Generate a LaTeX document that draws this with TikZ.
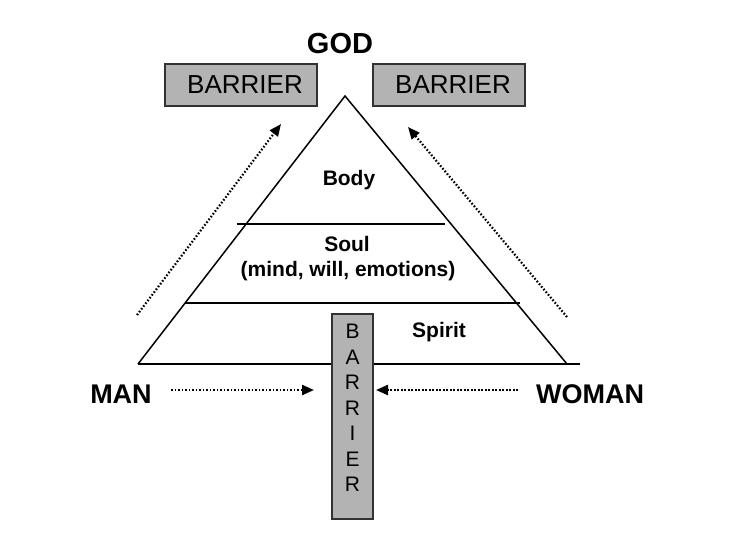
\documentclass[tikz,border=0pt]{standalone}
\usepackage{fontspec}
\setmainfont{Liberation Sans}
\usetikzlibrary{arrows.meta}
\definecolor{boxgray}{RGB}{179,179,179}
\definecolor{boxedge}{RGB}{50,50,50}
\tikzset{
  barbox/.style={draw=boxedge, fill=boxgray, line width=1.3pt},
  bartext/.style={font=\fontsize{26}{28}\selectfont, anchor=base, inner sep=0pt},
  vletter/.style={font=\fontsize{21}{22}\selectfont, anchor=base, inner sep=0pt},
  bigbold/.style={font=\bfseries\fontsize{27}{30}\selectfont, anchor=base, inner sep=0pt},
  midbold/.style={font=\bfseries\fontsize{21}{24}\selectfont, anchor=base, inner sep=0pt},
  tri/.style={line width=1.5pt, black},
  layer/.style={line width=2.2pt, black},
  dotarrow/.style={line width=2.2pt, dash pattern=on 1.6pt off 1.9pt, -{Triangle[length=12pt,width=10pt]}}
}
\begin{document}
\begin{tikzpicture}[x=1pt,y=-1pt]
\useasboundingbox (0,0) rectangle (754,544);
% triangle
\coordinate (apex) at (345,96);
\coordinate (bl) at (138,364);
\coordinate (br) at (567,364);
\coordinate (bend) at (580,364);
\draw[tri] (bl) -- (apex) -- (br);
\draw[tri] (bl) -- (bend);
\coordinate (l1a) at (237,224);
\coordinate (l1b) at (445,224);
\coordinate (l2a) at (185,303);
\coordinate (l2b) at (520,303);
\draw[layer] (l1a) -- (l1b);
\draw[layer] (l2a) -- (l2b);
% top barriers
\node[barbox, minimum width=152pt, minimum height=42pt, inner sep=0pt] (barL) at (241,85) {};
\node[barbox, minimum width=152pt, minimum height=42pt, inner sep=0pt] (barR) at (449,85) {};
\node[bartext] (barLt) at (245,93) {BARRIER};
\node[bartext] (barRt) at (453,93) {BARRIER};
% vertical barrier
\node[barbox, minimum width=41pt, minimum height=205pt, inner sep=0pt] (barV) at (352.5,416.5) {};
\node[vletter] (v1) at (352.5,338) {B};
\node[vletter] (v2) at (352.5,364) {A};
\node[vletter] (v3) at (352.5,389.5) {R};
\node[vletter] (v4) at (352.5,415) {R};
\node[vletter] (v5) at (352.5,440.5) {I};
\node[vletter] (v6) at (352.5,466) {E};
\node[vletter] (v7) at (352.5,491.5) {R};
% labels
\node[bigbold, font=\bfseries\fontsize{29}{32}\selectfont] (god) at (340,53) {GOD};
\node[bigbold] (man) at (121,403) {MAN};
\node[bigbold] (woman) at (590,403) {WOMAN};
\node[midbold] (body) at (349,185) {Body};
\node[midbold] (soul) at (347,251) {Soul};
\node[midbold] (mwe) at (348,276) {(mind, will, emotions)};
\node[midbold] (spirit) at (439,337) {Spirit};
% arrows
\coordinate (a1s) at (137,315);
\coordinate (a1e) at (281,124);
\coordinate (a2s) at (567,317);
\coordinate (a2e) at (408,127);
\coordinate (a3s) at (171,390);
\coordinate (a3e) at (314,390);
\coordinate (a4s) at (518,390);
\coordinate (a4e) at (376,390);
\draw[dotarrow] (a1s) -- (a1e);
\draw[dotarrow] (a2s) -- (a2e);
\draw[dotarrow] (a3s) -- (a3e);
\draw[dotarrow] (a4s) -- (a4e);
\end{tikzpicture}
\end{document}
